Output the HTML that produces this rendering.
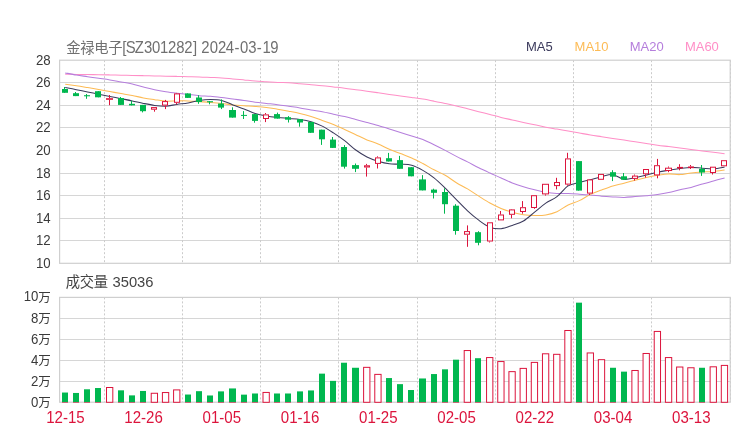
<!DOCTYPE html>
<html lang="zh-CN"><head><meta charset="utf-8"><title>金禄电子[SZ301282] 2024-03-19</title>
<style>html,body{margin:0;padding:0;background:#fff}body{width:740px;height:440px;overflow:hidden}svg{display:block}</style>
</head><body>
<svg width="740" height="440" viewBox="0 0 740 440">
<rect width="740" height="440" fill="#fff"/>
<path d="M59.60 82.50 H730.20M59.60 105.50 H730.20M59.60 127.50 H730.20M59.60 150.50 H730.20M59.60 173.50 H730.20M59.60 195.50 H730.20M59.60 218.50 H730.20M59.60 240.50 H730.20M59.60 318.50 H730.20M59.60 339.50 H730.20M59.60 360.50 H730.20M59.60 381.50 H730.20" stroke="#d6d6d6" stroke-width="1" fill="none"/>
<path d="M104.50 60.20 V263.30M104.50 297.40 V402.20M182.50 60.20 V263.30M182.50 297.40 V402.20M260.50 60.20 V263.30M260.50 297.40 V402.20M338.50 60.20 V263.30M338.50 297.40 V402.20M417.50 60.20 V263.30M417.50 297.40 V402.20M495.50 60.20 V263.30M495.50 297.40 V402.20M573.50 60.20 V263.30M573.50 297.40 V402.20M651.50 60.20 V263.30M651.50 297.40 V402.20M730.50 60.20 V263.30M730.50 297.40 V402.20" stroke="#cbcbcb" stroke-width="1" stroke-dasharray="2 2" fill="none"/>
<rect x="59.60" y="60.20" width="670.60" height="203.10" fill="none" stroke="#cfcfcf" stroke-width="1.2"/>
<rect x="59.60" y="297.40" width="670.60" height="104.80" fill="none" stroke="#cfcfcf" stroke-width="1.2"/>
<path d="M65.19 74.20C67.05 74.24 72.64 74.36 76.37 74.43C80.09 74.49 83.82 74.56 87.54 74.60C91.27 74.64 94.99 74.60 98.72 74.65C102.44 74.70 106.17 74.82 109.90 74.90C113.62 74.98 117.35 75.07 121.07 75.15C124.80 75.23 128.52 75.32 132.25 75.40C135.97 75.48 139.70 75.57 143.43 75.65C147.15 75.73 150.88 75.82 154.60 75.90C158.33 75.98 162.05 76.07 165.78 76.15C169.50 76.23 173.23 76.32 176.96 76.40C180.68 76.48 184.41 76.57 188.13 76.65C191.86 76.73 195.58 76.78 199.31 76.90C203.03 77.03 206.76 77.23 210.49 77.40C214.21 77.57 217.94 77.65 221.66 77.90C225.39 78.15 229.11 78.57 232.84 78.90C236.56 79.23 240.29 79.57 244.02 79.90C247.74 80.23 251.47 80.61 255.19 80.90C258.92 81.19 262.64 81.40 266.37 81.65C270.09 81.90 273.82 82.21 277.55 82.40C281.27 82.59 285.00 82.57 288.72 82.78C292.45 82.98 296.17 83.34 299.90 83.65C303.62 83.96 307.35 84.32 311.08 84.65C314.80 84.98 318.53 85.28 322.25 85.65C325.98 86.03 329.70 86.48 333.43 86.90C337.15 87.32 340.88 87.69 344.61 88.15C348.33 88.61 352.06 89.15 355.78 89.65C359.51 90.15 363.23 90.63 366.96 91.15C370.68 91.67 374.41 92.23 378.14 92.78C381.86 93.32 385.59 93.88 389.31 94.40C393.04 94.92 396.76 95.40 400.49 95.90C404.21 96.40 407.94 96.88 411.67 97.40C415.39 97.92 419.12 98.40 422.84 99.03C426.57 99.65 430.29 100.40 434.02 101.15C437.74 101.90 441.47 102.73 445.20 103.53C448.92 104.32 452.65 105.03 456.37 105.90C460.10 106.78 463.82 107.82 467.55 108.78C471.27 109.73 475.00 110.69 478.73 111.65C482.45 112.61 486.18 113.57 489.90 114.53C493.63 115.48 497.35 116.50 501.08 117.40C504.80 118.30 508.53 119.07 512.25 119.90C515.98 120.73 519.71 121.59 523.43 122.40C527.16 123.21 530.88 123.98 534.61 124.78C538.33 125.57 542.06 126.43 545.79 127.15C549.51 127.87 553.24 128.43 556.96 129.08C560.69 129.72 564.41 130.35 568.14 131.00C571.86 131.65 575.59 132.33 579.32 133.00C583.04 133.67 586.77 134.38 590.49 135.00C594.22 135.62 597.94 136.13 601.67 136.70C605.39 137.27 609.12 137.83 612.85 138.40C616.57 138.97 620.30 139.53 624.02 140.10C627.75 140.67 631.47 141.23 635.20 141.80C638.92 142.37 642.65 142.93 646.38 143.50C650.10 144.07 653.83 144.68 657.55 145.20C661.28 145.72 665.00 146.13 668.73 146.60C672.45 147.07 676.18 147.53 679.91 148.00C683.63 148.47 687.36 148.97 691.08 149.45C694.81 149.93 698.53 150.43 702.26 150.90C705.98 151.38 709.71 151.83 713.44 152.30C717.16 152.77 722.75 153.47 724.61 153.70" stroke="#ff8fc7" stroke-width="1.05" fill="none" stroke-linejoin="round"/>
<path d="M65.19 72.90C67.05 73.25 72.64 74.40 76.37 75.03C80.09 75.65 83.82 76.11 87.54 76.65C91.27 77.19 94.99 77.73 98.72 78.28C102.44 78.82 106.17 79.29 109.90 79.90C113.62 80.51 117.35 81.27 121.07 81.95C124.80 82.63 128.52 83.17 132.25 84.00C135.97 84.83 139.70 86.01 143.43 86.95C147.15 87.89 150.88 88.87 154.60 89.65C158.33 90.43 162.05 91.07 165.78 91.65C169.50 92.23 173.23 92.69 176.96 93.15C180.68 93.61 184.41 93.98 188.13 94.40C191.86 94.82 195.58 95.33 199.31 95.65C203.03 95.97 206.76 95.98 210.49 96.30C214.21 96.62 217.94 97.09 221.66 97.55C225.39 98.01 229.11 98.58 232.84 99.05C236.56 99.53 240.29 99.88 244.02 100.40C247.74 100.92 251.47 101.65 255.19 102.15C258.92 102.65 262.64 102.98 266.37 103.40C270.09 103.82 273.82 104.17 277.55 104.65C281.27 105.13 285.00 105.73 288.72 106.28C292.45 106.82 296.17 107.28 299.90 107.90C303.62 108.53 307.35 109.38 311.08 110.03C314.80 110.67 318.53 111.06 322.25 111.75C325.98 112.44 329.70 113.37 333.43 114.18C337.15 114.98 340.88 115.71 344.61 116.60C348.33 117.49 352.06 118.55 355.78 119.53C359.51 120.50 363.23 121.45 366.96 122.45C370.68 123.45 374.41 124.45 378.14 125.53C381.86 126.60 385.59 127.75 389.31 128.90C393.04 130.05 396.76 131.22 400.49 132.40C404.21 133.58 407.94 134.83 411.67 136.00C415.39 137.17 419.12 137.93 422.84 139.40C426.57 140.87 430.29 142.97 434.02 144.80C437.74 146.63 441.47 148.48 445.20 150.40C448.92 152.32 452.65 154.43 456.37 156.35C460.10 158.27 463.82 159.99 467.55 161.90C471.27 163.81 475.00 165.95 478.73 167.80C482.45 169.65 486.18 171.32 489.90 173.00C493.63 174.68 497.35 176.25 501.08 177.90C504.80 179.55 508.53 181.44 512.25 182.90C515.98 184.36 519.71 185.53 523.43 186.65C527.16 187.78 530.88 188.73 534.61 189.65C538.33 190.57 542.06 191.53 545.79 192.15C549.51 192.78 553.24 193.18 556.96 193.40C560.69 193.62 564.41 193.38 568.14 193.50C571.86 193.62 575.59 193.90 579.32 194.15C583.04 194.40 586.77 194.67 590.49 195.00C594.22 195.33 597.94 195.83 601.67 196.15C605.39 196.47 609.12 196.69 612.85 196.90C616.57 197.11 620.30 197.45 624.02 197.40C627.75 197.35 631.47 196.89 635.20 196.60C638.92 196.31 642.65 196.00 646.38 195.65C650.10 195.30 653.83 195.01 657.55 194.50C661.28 193.99 665.00 193.38 668.73 192.60C672.45 191.82 676.18 190.67 679.91 189.80C683.63 188.93 687.36 188.35 691.08 187.40C694.81 186.45 698.53 185.18 702.26 184.10C705.98 183.02 709.71 181.93 713.44 180.90C717.16 179.87 722.75 178.40 724.61 177.90" stroke="#b57edc" stroke-width="1.05" fill="none" stroke-linejoin="round"/>
<path d="M65.19 84.15C67.05 84.40 72.64 85.08 76.37 85.65C80.09 86.22 83.82 86.90 87.54 87.55C91.27 88.20 94.99 88.90 98.72 89.58C102.44 90.25 106.17 90.94 109.90 91.60C113.62 92.26 117.35 92.88 121.07 93.53C124.80 94.17 128.52 94.72 132.25 95.45C135.97 96.18 139.70 97.20 143.43 97.90C147.15 98.60 150.88 99.12 154.60 99.65C158.33 100.18 162.05 100.89 165.78 101.10C169.50 101.31 173.23 100.93 176.96 100.90C180.68 100.87 184.41 100.78 188.13 100.90C191.86 101.03 195.58 101.40 199.31 101.65C203.03 101.90 206.76 102.11 210.49 102.40C214.21 102.69 217.94 102.98 221.66 103.40C225.39 103.82 229.11 104.52 232.84 104.90C236.56 105.28 240.29 105.45 244.02 105.70C247.74 105.95 251.47 106.12 255.19 106.40C258.92 106.68 262.64 106.94 266.37 107.40C270.09 107.86 273.82 108.53 277.55 109.15C281.27 109.78 285.00 110.44 288.72 111.15C292.45 111.86 296.17 112.53 299.90 113.40C303.62 114.28 307.35 115.23 311.08 116.40C314.80 117.57 318.53 119.07 322.25 120.40C325.98 121.73 329.70 122.90 333.43 124.40C337.15 125.90 340.88 127.68 344.61 129.40C348.33 131.12 352.06 132.95 355.78 134.70C359.51 136.45 363.23 138.37 366.96 139.90C370.68 141.43 374.41 142.33 378.14 143.90C381.86 145.47 385.59 147.68 389.31 149.30C393.04 150.92 396.76 152.17 400.49 153.60C404.21 155.03 407.94 156.24 411.67 157.90C415.39 159.56 419.12 161.57 422.84 163.55C426.57 165.53 430.29 167.84 434.02 169.80C437.74 171.76 441.47 173.15 445.20 175.30C448.92 177.45 452.65 180.43 456.37 182.70C460.10 184.97 463.82 186.67 467.55 188.90C471.27 191.13 475.00 193.75 478.73 196.10C482.45 198.45 486.18 200.95 489.90 203.00C493.63 205.05 497.35 206.87 501.08 208.40C504.80 209.93 508.53 211.16 512.25 212.20C515.98 213.24 519.71 214.12 523.43 214.65C527.16 215.18 530.88 215.36 534.61 215.40C538.33 215.44 542.06 215.52 545.79 214.90C549.51 214.28 553.24 213.35 556.96 211.70C560.69 210.05 564.41 206.84 568.14 205.00C571.86 203.16 575.59 202.42 579.32 200.65C583.04 198.88 586.77 196.19 590.49 194.40C594.22 192.61 597.94 191.32 601.67 189.90C605.39 188.48 609.12 187.02 612.85 185.90C616.57 184.78 620.30 184.15 624.02 183.20C627.75 182.25 631.47 181.17 635.20 180.20C638.92 179.23 642.65 178.22 646.38 177.40C650.10 176.58 653.83 175.88 657.55 175.30C661.28 174.72 665.00 174.02 668.73 173.90C672.45 173.78 676.18 174.77 679.91 174.60C683.63 174.43 687.36 173.33 691.08 172.90C694.81 172.47 698.53 172.23 702.26 172.00C705.98 171.77 709.71 171.85 713.44 171.50C717.16 171.15 722.75 170.17 724.61 169.90" stroke="#fdbb55" stroke-width="1.05" fill="none" stroke-linejoin="round"/>
<path d="M65.19 87.40C67.05 87.78 72.64 88.90 76.37 89.65C80.09 90.40 83.82 91.15 87.54 91.90C91.27 92.65 94.99 93.40 98.72 94.15C102.44 94.90 106.17 95.65 109.90 96.40C113.62 97.15 117.35 97.90 121.07 98.65C124.80 99.40 128.52 100.11 132.25 100.90C135.97 101.69 139.70 102.65 143.43 103.40C147.15 104.15 150.88 104.94 154.60 105.40C158.33 105.86 162.05 106.32 165.78 106.15C169.50 105.98 173.23 104.94 176.96 104.40C180.68 103.86 184.41 103.57 188.13 102.90C191.86 102.23 195.58 100.97 199.31 100.40C203.03 99.83 206.76 99.50 210.49 99.50C214.21 99.50 217.94 99.50 221.66 100.40C225.39 101.30 229.11 103.48 232.84 104.90C236.56 106.32 240.29 107.48 244.02 108.90C247.74 110.32 251.47 112.23 255.19 113.40C258.92 114.57 262.64 115.23 266.37 115.90C270.09 116.57 273.82 116.98 277.55 117.40C281.27 117.82 285.00 118.07 288.72 118.40C292.45 118.73 296.17 118.86 299.90 119.40C303.62 119.94 307.35 120.53 311.08 121.65C314.80 122.78 318.53 124.28 322.25 126.15C325.98 128.03 329.70 130.48 333.43 132.90C337.15 135.32 340.88 137.80 344.61 140.65C348.33 143.50 352.06 147.28 355.78 150.00C359.51 152.72 363.23 155.08 366.96 156.95C370.68 158.83 374.41 160.10 378.14 161.25C381.86 162.40 385.59 163.36 389.31 163.85C393.04 164.34 396.76 163.96 400.49 164.20C404.21 164.44 407.94 164.27 411.67 165.30C415.39 166.33 419.12 168.30 422.84 170.40C426.57 172.50 430.29 174.94 434.02 177.90C437.74 180.86 441.47 184.53 445.20 188.15C448.92 191.77 452.65 195.81 456.37 199.60C460.10 203.39 463.82 207.47 467.55 210.90C471.27 214.33 475.00 217.49 478.73 220.20C482.45 222.91 486.18 225.74 489.90 227.15C493.63 228.56 497.35 228.94 501.08 228.65C504.80 228.36 508.53 226.68 512.25 225.40C515.98 224.12 519.71 223.22 523.43 221.00C527.16 218.78 530.88 215.07 534.61 212.10C538.33 209.12 542.06 205.72 545.79 203.15C549.51 200.58 553.24 199.53 556.96 196.65C560.69 193.78 564.41 188.28 568.14 185.90C571.86 183.53 575.59 183.44 579.32 182.40C583.04 181.36 586.77 180.61 590.49 179.65C594.22 178.69 597.94 177.48 601.67 176.65C605.39 175.82 609.12 174.21 612.85 174.65C616.57 175.09 620.30 178.79 624.02 179.30C627.75 179.81 631.47 178.43 635.20 177.70C638.92 176.97 642.65 175.82 646.38 174.90C650.10 173.98 653.83 172.98 657.55 172.20C661.28 171.42 665.00 170.82 668.73 170.20C672.45 169.58 676.18 168.97 679.91 168.50C683.63 168.03 687.36 167.45 691.08 167.40C694.81 167.35 698.53 167.95 702.26 168.20C705.98 168.45 709.71 169.10 713.44 168.90C717.16 168.70 722.75 167.32 724.61 167.00" stroke="#3b3a5c" stroke-width="1.05" fill="none" stroke-linejoin="round"/>
<rect x="62" y="89.00" width="6" height="3.80" fill="#00b74f"/>
<path d="M64.5 87.00 V92.80" stroke="#00b74f" stroke-width="1"/>
<rect x="73" y="93.20" width="6" height="2.90" fill="#00b74f"/>
<path d="M75.5 92.00 V96.10" stroke="#00b74f" stroke-width="1"/>
<rect x="84" y="95.20" width="6" height="1.10" fill="#00b74f"/>
<path d="M86.5 94.00 V98.80" stroke="#00b74f" stroke-width="1"/>
<rect x="95" y="91.20" width="6" height="6.10" fill="#00b74f"/>
<path d="M98.5 91.20 V97.30" stroke="#00b74f" stroke-width="1"/>
<path d="M109.5 95.00 V98.20M109.5 99.40 V105.20" stroke="#dc143c" stroke-width="1"/>
<rect x="106.5" y="98.70" width="6" height="0.60" fill="#fff" stroke="#dc143c" stroke-width="1"/>
<rect x="118" y="98.00" width="6" height="6.90" fill="#00b74f"/>
<path d="M120.5 97.00 V104.90" stroke="#00b74f" stroke-width="1"/>
<rect x="129" y="103.80" width="6" height="1.60" fill="#00b74f"/>
<path d="M131.5 100.80 V105.40" stroke="#00b74f" stroke-width="1"/>
<rect x="140" y="104.90" width="6" height="6.30" fill="#00b74f"/>
<path d="M142.5 104.90 V112.40" stroke="#00b74f" stroke-width="1"/>
<path d="M154.5 109.70 V111.70" stroke="#dc143c" stroke-width="1"/>
<rect x="151.5" y="107.60" width="5" height="1.60" fill="#fff" stroke="#dc143c" stroke-width="1"/>
<path d="M165.5 99.90 V101.10M165.5 105.60 V109.10" stroke="#dc143c" stroke-width="1"/>
<rect x="162.5" y="101.60" width="5" height="3.50" fill="#fff" stroke="#dc143c" stroke-width="1"/>
<path d="M176.5 92.90 V93.40M176.5 102.80 V104.30" stroke="#dc143c" stroke-width="1"/>
<rect x="174.5" y="93.90" width="5" height="8.40" fill="#fff" stroke="#dc143c" stroke-width="1"/>
<rect x="185" y="93.40" width="6" height="4.50" fill="#00b74f"/>
<path d="M187.5 93.40 V97.90" stroke="#00b74f" stroke-width="1"/>
<rect x="196" y="97.50" width="6" height="4.50" fill="#00b74f"/>
<path d="M198.5 95.20 V103.80" stroke="#00b74f" stroke-width="1"/>
<rect x="207" y="101.20" width="6" height="1.10" fill="#00b74f"/>
<path d="M209.5 101.20 V104.30" stroke="#00b74f" stroke-width="1"/>
<rect x="218" y="103.50" width="6" height="4.10" fill="#00b74f"/>
<path d="M221.5 99.40 V109.10" stroke="#00b74f" stroke-width="1"/>
<rect x="229" y="110.00" width="7" height="7.60" fill="#00b74f"/>
<path d="M232.5 107.30 V117.60" stroke="#00b74f" stroke-width="1"/>
<rect x="241" y="114.90" width="6" height="1.00" fill="#00b74f"/>
<path d="M243.5 111.10 V119.00" stroke="#00b74f" stroke-width="1"/>
<rect x="252" y="114.10" width="6" height="6.80" fill="#00b74f"/>
<path d="M254.5 114.10 V122.70" stroke="#00b74f" stroke-width="1"/>
<path d="M265.5 113.00 V114.40M265.5 119.00 V122.10" stroke="#dc143c" stroke-width="1"/>
<rect x="263.5" y="114.90" width="5" height="3.60" fill="#fff" stroke="#dc143c" stroke-width="1"/>
<rect x="274" y="114.10" width="6" height="4.50" fill="#00b74f"/>
<path d="M277.5 112.60 V118.60" stroke="#00b74f" stroke-width="1"/>
<rect x="285" y="117.20" width="6" height="2.50" fill="#00b74f"/>
<path d="M288.5 116.10 V122.50" stroke="#00b74f" stroke-width="1"/>
<rect x="297" y="119.10" width="6" height="3.40" fill="#00b74f"/>
<path d="M299.5 119.10 V126.70" stroke="#00b74f" stroke-width="1"/>
<rect x="308" y="121.90" width="6" height="10.90" fill="#00b74f"/>
<path d="M310.5 121.90 V132.80" stroke="#00b74f" stroke-width="1"/>
<rect x="319" y="129.70" width="6" height="9.60" fill="#00b74f"/>
<path d="M321.5 129.70 V144.90" stroke="#00b74f" stroke-width="1"/>
<rect x="330" y="139.60" width="6" height="8.30" fill="#00b74f"/>
<path d="M332.5 137.00 V147.90" stroke="#00b74f" stroke-width="1"/>
<rect x="341" y="147.00" width="6" height="19.70" fill="#00b74f"/>
<path d="M344.5 145.10 V168.60" stroke="#00b74f" stroke-width="1"/>
<rect x="352" y="165.10" width="7" height="3.70" fill="#00b74f"/>
<path d="M355.5 163.50 V172.10" stroke="#00b74f" stroke-width="1"/>
<path d="M366.5 163.90 V165.30M366.5 167.50 V176.60" stroke="#dc143c" stroke-width="1"/>
<rect x="364.5" y="165.80" width="5" height="1.20" fill="#fff" stroke="#dc143c" stroke-width="1"/>
<path d="M377.5 156.30 V157.40M377.5 163.90 V168.50" stroke="#dc143c" stroke-width="1"/>
<rect x="375.5" y="157.90" width="5" height="5.50" fill="#fff" stroke="#dc143c" stroke-width="1"/>
<rect x="386" y="158.20" width="6" height="3.30" fill="#00b74f"/>
<path d="M388.5 152.90 V161.50" stroke="#00b74f" stroke-width="1"/>
<rect x="397" y="160.10" width="6" height="8.70" fill="#00b74f"/>
<path d="M399.5 155.90 V168.80" stroke="#00b74f" stroke-width="1"/>
<rect x="408" y="167.20" width="6" height="9.10" fill="#00b74f"/>
<path d="M411.5 167.20 V176.30" stroke="#00b74f" stroke-width="1"/>
<rect x="419" y="179.40" width="7" height="11.00" fill="#00b74f"/>
<path d="M422.5 175.10 V190.40" stroke="#00b74f" stroke-width="1"/>
<rect x="431" y="189.60" width="6" height="3.20" fill="#00b74f"/>
<path d="M433.5 188.70 V198.50" stroke="#00b74f" stroke-width="1"/>
<rect x="442" y="192.00" width="6" height="12.20" fill="#00b74f"/>
<path d="M444.5 188.30 V213.70" stroke="#00b74f" stroke-width="1"/>
<rect x="453" y="205.70" width="6" height="25.30" fill="#00b74f"/>
<path d="M455.5 204.20 V234.70" stroke="#00b74f" stroke-width="1"/>
<path d="M467.5 225.40 V231.10M467.5 234.70 V246.80" stroke="#dc143c" stroke-width="1"/>
<rect x="464.5" y="231.60" width="5" height="2.60" fill="#fff" stroke="#dc143c" stroke-width="1"/>
<rect x="475" y="232.20" width="6" height="10.60" fill="#00b74f"/>
<path d="M478.5 231.20 V245.30" stroke="#00b74f" stroke-width="1"/>
<path d="M489.5 241.50 V242.50" stroke="#dc143c" stroke-width="1"/>
<rect x="487.5" y="222.80" width="5" height="18.20" fill="#fff" stroke="#dc143c" stroke-width="1"/>
<path d="M500.5 211.00 V214.50" stroke="#dc143c" stroke-width="1"/>
<rect x="498.5" y="215.00" width="5" height="4.90" fill="#fff" stroke="#dc143c" stroke-width="1"/>
<path d="M511.5 209.00 V209.40M511.5 214.80 V218.30" stroke="#dc143c" stroke-width="1"/>
<rect x="509.5" y="209.90" width="5" height="4.40" fill="#fff" stroke="#dc143c" stroke-width="1"/>
<path d="M522.5 201.10 V207.20M522.5 212.00 V213.70" stroke="#dc143c" stroke-width="1"/>
<rect x="520.5" y="207.70" width="5" height="3.80" fill="#fff" stroke="#dc143c" stroke-width="1"/>
<path d="M534.5 208.00 V208.80" stroke="#dc143c" stroke-width="1"/>
<rect x="531.5" y="195.70" width="5" height="11.80" fill="#fff" stroke="#dc143c" stroke-width="1"/>
<path d="M545.5 194.40 V195.60" stroke="#dc143c" stroke-width="1"/>
<rect x="542.5" y="184.30" width="6" height="9.60" fill="#fff" stroke="#dc143c" stroke-width="1"/>
<path d="M556.5 177.80 V182.00M556.5 186.10 V189.40" stroke="#dc143c" stroke-width="1"/>
<rect x="554.5" y="182.50" width="5" height="3.10" fill="#fff" stroke="#dc143c" stroke-width="1"/>
<path d="M567.5 152.80 V158.40M567.5 184.60 V185.70" stroke="#dc143c" stroke-width="1"/>
<rect x="565.5" y="158.90" width="5" height="25.20" fill="#fff" stroke="#dc143c" stroke-width="1"/>
<rect x="576" y="161.10" width="6" height="29.50" fill="#00b74f"/>
<path d="M578.5 161.10 V190.60" stroke="#00b74f" stroke-width="1"/>
<path d="M589.5 193.60 V195.00" stroke="#dc143c" stroke-width="1"/>
<rect x="587.5" y="179.90" width="5" height="13.20" fill="#fff" stroke="#dc143c" stroke-width="1"/>
<rect x="598.5" y="174.40" width="5" height="4.90" fill="#fff" stroke="#dc143c" stroke-width="1"/>
<rect x="610" y="172.20" width="6" height="4.50" fill="#00b74f"/>
<path d="M612.5 170.20 V181.10" stroke="#00b74f" stroke-width="1"/>
<rect x="621" y="176.30" width="6" height="3.40" fill="#00b74f"/>
<path d="M623.5 173.00 V179.70" stroke="#00b74f" stroke-width="1"/>
<path d="M634.5 174.50 V175.60M634.5 178.90 V180.60" stroke="#dc143c" stroke-width="1"/>
<rect x="632.5" y="176.10" width="5" height="2.30" fill="#fff" stroke="#dc143c" stroke-width="1"/>
<path d="M645.5 174.30 V177.60" stroke="#dc143c" stroke-width="1"/>
<rect x="643.5" y="169.50" width="5" height="4.30" fill="#fff" stroke="#dc143c" stroke-width="1"/>
<path d="M657.5 158.90 V165.20M657.5 175.40 V178.30" stroke="#dc143c" stroke-width="1"/>
<rect x="654.5" y="165.70" width="5" height="9.20" fill="#fff" stroke="#dc143c" stroke-width="1"/>
<path d="M668.5 166.50 V167.70M668.5 171.00 V172.20" stroke="#dc143c" stroke-width="1"/>
<rect x="665.5" y="168.20" width="6" height="2.30" fill="#fff" stroke="#dc143c" stroke-width="1"/>
<path d="M679.5 164.20 V166.90M679.5 168.50 V170.30" stroke="#dc143c" stroke-width="1"/>
<rect x="677.5" y="167.40" width="5" height="0.60" fill="#fff" stroke="#dc143c" stroke-width="1"/>
<path d="M690.5 165.00 V166.50M690.5 167.50 V169.00" stroke="#dc143c" stroke-width="1"/>
<rect x="688.5" y="167.00" width="5" height="0.60" fill="#fff" stroke="#dc143c" stroke-width="1"/>
<rect x="699" y="168.80" width="6" height="3.70" fill="#00b74f"/>
<path d="M701.5 165.00 V175.90" stroke="#00b74f" stroke-width="1"/>
<path d="M712.5 173.00 V174.50" stroke="#dc143c" stroke-width="1"/>
<rect x="710.5" y="167.20" width="5" height="5.30" fill="#fff" stroke="#dc143c" stroke-width="1"/>
<rect x="721.5" y="160.70" width="5" height="5.10" fill="#fff" stroke="#dc143c" stroke-width="1"/>
<rect x="62" y="392.54" width="6" height="9.66" fill="#00b74f"/>
<rect x="62" y="402.00" width="6" height="1" fill="#dc143c" fill-opacity="0.55"/>
<rect x="73" y="392.96" width="6" height="9.24" fill="#00b74f"/>
<rect x="73" y="402.00" width="6" height="1" fill="#dc143c" fill-opacity="0.55"/>
<rect x="84" y="389.28" width="6" height="12.91" fill="#00b74f"/>
<rect x="84" y="402.00" width="6" height="1" fill="#dc143c" fill-opacity="0.55"/>
<rect x="95" y="388.02" width="6" height="14.18" fill="#00b74f"/>
<rect x="95" y="402.00" width="6" height="1" fill="#dc143c" fill-opacity="0.55"/>
<rect x="106.51" y="387.50" width="6.3" height="14.80" fill="#fff" stroke="#dc143c" stroke-width="1"/>
<rect x="118" y="390.33" width="6" height="11.86" fill="#00b74f"/>
<rect x="118" y="402.00" width="6" height="1" fill="#dc143c" fill-opacity="0.55"/>
<rect x="129" y="395.38" width="6" height="6.83" fill="#00b74f"/>
<rect x="129" y="402.00" width="6" height="1" fill="#dc143c" fill-opacity="0.55"/>
<rect x="140" y="390.96" width="6" height="11.24" fill="#00b74f"/>
<rect x="140" y="402.00" width="6" height="1" fill="#dc143c" fill-opacity="0.55"/>
<rect x="151.22" y="393.27" width="6.3" height="9.02" fill="#fff" stroke="#dc143c" stroke-width="1"/>
<rect x="162.40" y="392.54" width="6.3" height="9.76" fill="#fff" stroke="#dc143c" stroke-width="1"/>
<rect x="173.58" y="389.91" width="6.3" height="12.38" fill="#fff" stroke="#dc143c" stroke-width="1"/>
<rect x="185" y="394.53" width="6" height="7.67" fill="#00b74f"/>
<rect x="185" y="402.00" width="6" height="1" fill="#dc143c" fill-opacity="0.55"/>
<rect x="196" y="391.18" width="6" height="11.03" fill="#00b74f"/>
<rect x="196" y="402.00" width="6" height="1" fill="#dc143c" fill-opacity="0.55"/>
<rect x="207" y="395.48" width="6" height="6.72" fill="#00b74f"/>
<rect x="207" y="402.00" width="6" height="1" fill="#dc143c" fill-opacity="0.55"/>
<rect x="218" y="391.38" width="6" height="10.81" fill="#00b74f"/>
<rect x="218" y="402.00" width="6" height="1" fill="#dc143c" fill-opacity="0.55"/>
<rect x="229" y="388.44" width="7" height="13.76" fill="#00b74f"/>
<rect x="229" y="402.00" width="7" height="1" fill="#dc143c" fill-opacity="0.55"/>
<rect x="241" y="394.64" width="6" height="7.56" fill="#00b74f"/>
<rect x="241" y="402.00" width="6" height="1" fill="#dc143c" fill-opacity="0.55"/>
<rect x="252" y="393.49" width="6" height="8.71" fill="#00b74f"/>
<rect x="252" y="402.00" width="6" height="1" fill="#dc143c" fill-opacity="0.55"/>
<rect x="263.00" y="392.44" width="6.3" height="9.87" fill="#fff" stroke="#dc143c" stroke-width="1"/>
<rect x="274" y="393.49" width="6" height="8.71" fill="#00b74f"/>
<rect x="274" y="402.00" width="6" height="1" fill="#dc143c" fill-opacity="0.55"/>
<rect x="285" y="393.49" width="6" height="8.71" fill="#00b74f"/>
<rect x="285" y="402.00" width="6" height="1" fill="#dc143c" fill-opacity="0.55"/>
<rect x="297" y="391.38" width="6" height="10.81" fill="#00b74f"/>
<rect x="297" y="402.00" width="6" height="1" fill="#dc143c" fill-opacity="0.55"/>
<rect x="308" y="390.44" width="6" height="11.76" fill="#00b74f"/>
<rect x="308" y="402.00" width="6" height="1" fill="#dc143c" fill-opacity="0.55"/>
<rect x="319" y="373.64" width="6" height="28.56" fill="#00b74f"/>
<rect x="319" y="402.00" width="6" height="1" fill="#dc143c" fill-opacity="0.55"/>
<rect x="330" y="380.88" width="6" height="21.31" fill="#00b74f"/>
<rect x="330" y="402.00" width="6" height="1" fill="#dc143c" fill-opacity="0.55"/>
<rect x="341" y="362.72" width="6" height="39.48" fill="#00b74f"/>
<rect x="341" y="402.00" width="6" height="1" fill="#dc143c" fill-opacity="0.55"/>
<rect x="352" y="367.76" width="7" height="34.44" fill="#00b74f"/>
<rect x="352" y="402.00" width="7" height="1" fill="#dc143c" fill-opacity="0.55"/>
<rect x="363.61" y="367.34" width="6.3" height="34.96" fill="#fff" stroke="#dc143c" stroke-width="1"/>
<rect x="374.78" y="374.38" width="6.3" height="27.93" fill="#fff" stroke="#dc143c" stroke-width="1"/>
<rect x="386" y="378.05" width="6" height="24.15" fill="#00b74f"/>
<rect x="386" y="402.00" width="6" height="1" fill="#dc143c" fill-opacity="0.55"/>
<rect x="397" y="384.14" width="6" height="18.06" fill="#00b74f"/>
<rect x="397" y="402.00" width="6" height="1" fill="#dc143c" fill-opacity="0.55"/>
<rect x="408" y="390.02" width="6" height="12.18" fill="#00b74f"/>
<rect x="408" y="402.00" width="6" height="1" fill="#dc143c" fill-opacity="0.55"/>
<rect x="419" y="378.47" width="7" height="23.73" fill="#00b74f"/>
<rect x="419" y="402.00" width="7" height="1" fill="#dc143c" fill-opacity="0.55"/>
<rect x="431" y="374.06" width="6" height="28.14" fill="#00b74f"/>
<rect x="431" y="402.00" width="6" height="1" fill="#dc143c" fill-opacity="0.55"/>
<rect x="442" y="369.33" width="6" height="32.87" fill="#00b74f"/>
<rect x="442" y="402.00" width="6" height="1" fill="#dc143c" fill-opacity="0.55"/>
<rect x="453" y="359.68" width="6" height="42.52" fill="#00b74f"/>
<rect x="453" y="402.00" width="6" height="1" fill="#dc143c" fill-opacity="0.55"/>
<rect x="464.21" y="350.54" width="6.3" height="51.76" fill="#fff" stroke="#dc143c" stroke-width="1"/>
<rect x="475" y="358.20" width="6" height="44.00" fill="#00b74f"/>
<rect x="475" y="402.00" width="6" height="1" fill="#dc143c" fill-opacity="0.55"/>
<rect x="486.56" y="357.57" width="6.3" height="44.73" fill="#fff" stroke="#dc143c" stroke-width="1"/>
<rect x="497.74" y="361.56" width="6.3" height="40.73" fill="#fff" stroke="#dc143c" stroke-width="1"/>
<rect x="508.92" y="371.64" width="6.3" height="30.66" fill="#fff" stroke="#dc143c" stroke-width="1"/>
<rect x="520.10" y="368.39" width="6.3" height="33.91" fill="#fff" stroke="#dc143c" stroke-width="1"/>
<rect x="531.28" y="362.40" width="6.3" height="39.90" fill="#fff" stroke="#dc143c" stroke-width="1"/>
<rect x="542.45" y="353.79" width="6.3" height="48.51" fill="#fff" stroke="#dc143c" stroke-width="1"/>
<rect x="553.63" y="354.32" width="6.3" height="47.98" fill="#fff" stroke="#dc143c" stroke-width="1"/>
<rect x="564.81" y="330.49" width="6.3" height="71.81" fill="#fff" stroke="#dc143c" stroke-width="1"/>
<rect x="576" y="302.66" width="6" height="99.54" fill="#00b74f"/>
<rect x="576" y="402.00" width="6" height="1" fill="#dc143c" fill-opacity="0.55"/>
<rect x="587.17" y="352.95" width="6.3" height="49.35" fill="#fff" stroke="#dc143c" stroke-width="1"/>
<rect x="598.34" y="359.68" width="6.3" height="42.62" fill="#fff" stroke="#dc143c" stroke-width="1"/>
<rect x="610" y="367.76" width="6" height="34.44" fill="#00b74f"/>
<rect x="610" y="402.00" width="6" height="1" fill="#dc143c" fill-opacity="0.55"/>
<rect x="621" y="371.64" width="6" height="30.55" fill="#00b74f"/>
<rect x="621" y="402.00" width="6" height="1" fill="#dc143c" fill-opacity="0.55"/>
<rect x="631.88" y="370.49" width="6.3" height="31.81" fill="#fff" stroke="#dc143c" stroke-width="1"/>
<rect x="643.06" y="353.48" width="6.3" height="48.82" fill="#fff" stroke="#dc143c" stroke-width="1"/>
<rect x="654.23" y="331.43" width="6.3" height="70.87" fill="#fff" stroke="#dc143c" stroke-width="1"/>
<rect x="665.41" y="357.57" width="6.3" height="44.73" fill="#fff" stroke="#dc143c" stroke-width="1"/>
<rect x="676.59" y="367.02" width="6.3" height="35.28" fill="#fff" stroke="#dc143c" stroke-width="1"/>
<rect x="687.77" y="367.76" width="6.3" height="34.54" fill="#fff" stroke="#dc143c" stroke-width="1"/>
<rect x="699" y="367.76" width="6" height="34.44" fill="#00b74f"/>
<rect x="699" y="402.00" width="6" height="1" fill="#dc143c" fill-opacity="0.55"/>
<rect x="710.12" y="366.81" width="6.3" height="35.48" fill="#fff" stroke="#dc143c" stroke-width="1"/>
<rect x="721.30" y="365.41" width="6.3" height="36.89" fill="#fff" stroke="#dc143c" stroke-width="1"/>
<g opacity="0.999">
<text transform="translate(50.70 64.85) scale(0.920 1)" font-size="14.4" fill="#3a3a3a" text-anchor="end" font-family="'Liberation Sans','Noto Sans CJK SC',sans-serif">28</text>
<text transform="translate(50.70 87.05) scale(0.920 1)" font-size="14.4" fill="#3a3a3a" text-anchor="end" font-family="'Liberation Sans','Noto Sans CJK SC',sans-serif">26</text>
<text transform="translate(50.70 110.05) scale(0.920 1)" font-size="14.4" fill="#3a3a3a" text-anchor="end" font-family="'Liberation Sans','Noto Sans CJK SC',sans-serif">24</text>
<text transform="translate(50.70 132.05) scale(0.920 1)" font-size="14.4" fill="#3a3a3a" text-anchor="end" font-family="'Liberation Sans','Noto Sans CJK SC',sans-serif">22</text>
<text transform="translate(50.70 155.05) scale(0.920 1)" font-size="14.4" fill="#3a3a3a" text-anchor="end" font-family="'Liberation Sans','Noto Sans CJK SC',sans-serif">20</text>
<text transform="translate(50.70 178.05) scale(0.920 1)" font-size="14.4" fill="#3a3a3a" text-anchor="end" font-family="'Liberation Sans','Noto Sans CJK SC',sans-serif">18</text>
<text transform="translate(50.70 200.05) scale(0.920 1)" font-size="14.4" fill="#3a3a3a" text-anchor="end" font-family="'Liberation Sans','Noto Sans CJK SC',sans-serif">16</text>
<text transform="translate(50.70 223.05) scale(0.920 1)" font-size="14.4" fill="#3a3a3a" text-anchor="end" font-family="'Liberation Sans','Noto Sans CJK SC',sans-serif">14</text>
<text transform="translate(50.70 245.05) scale(0.920 1)" font-size="14.4" fill="#3a3a3a" text-anchor="end" font-family="'Liberation Sans','Noto Sans CJK SC',sans-serif">12</text>
<text transform="translate(50.70 267.55) scale(0.920 1)" font-size="14.4" fill="#3a3a3a" text-anchor="end" font-family="'Liberation Sans','Noto Sans CJK SC',sans-serif">10</text>
<text transform="translate(50.70 301.55)" font-size="12.5" fill="#3a3a3a" text-anchor="end" font-family="'Liberation Sans','Noto Sans CJK SC',sans-serif">万</text>
<text transform="translate(38.40 301.45) scale(0.920 1)" font-size="14.4" fill="#3a3a3a" text-anchor="end" font-family="'Liberation Sans','Noto Sans CJK SC',sans-serif">10</text>
<text transform="translate(50.70 323.15)" font-size="12.5" fill="#3a3a3a" text-anchor="end" font-family="'Liberation Sans','Noto Sans CJK SC',sans-serif">万</text>
<text transform="translate(38.40 323.05) scale(0.920 1)" font-size="14.4" fill="#3a3a3a" text-anchor="end" font-family="'Liberation Sans','Noto Sans CJK SC',sans-serif">8</text>
<text transform="translate(50.70 344.15)" font-size="12.5" fill="#3a3a3a" text-anchor="end" font-family="'Liberation Sans','Noto Sans CJK SC',sans-serif">万</text>
<text transform="translate(38.40 344.05) scale(0.920 1)" font-size="14.4" fill="#3a3a3a" text-anchor="end" font-family="'Liberation Sans','Noto Sans CJK SC',sans-serif">6</text>
<text transform="translate(50.70 365.15)" font-size="12.5" fill="#3a3a3a" text-anchor="end" font-family="'Liberation Sans','Noto Sans CJK SC',sans-serif">万</text>
<text transform="translate(38.40 365.05) scale(0.920 1)" font-size="14.4" fill="#3a3a3a" text-anchor="end" font-family="'Liberation Sans','Noto Sans CJK SC',sans-serif">4</text>
<text transform="translate(50.70 386.15)" font-size="12.5" fill="#3a3a3a" text-anchor="end" font-family="'Liberation Sans','Noto Sans CJK SC',sans-serif">万</text>
<text transform="translate(38.40 386.05) scale(0.920 1)" font-size="14.4" fill="#3a3a3a" text-anchor="end" font-family="'Liberation Sans','Noto Sans CJK SC',sans-serif">2</text>
<text transform="translate(50.70 406.85)" font-size="12.5" fill="#3a3a3a" text-anchor="end" font-family="'Liberation Sans','Noto Sans CJK SC',sans-serif">万</text>
<text transform="translate(38.40 406.75) scale(0.920 1)" font-size="14.4" fill="#3a3a3a" text-anchor="end" font-family="'Liberation Sans','Noto Sans CJK SC',sans-serif">0</text>
<text transform="translate(65.39 422.90) scale(0.930 1)" font-size="16.2" fill="#dc143c" text-anchor="middle" font-family="'Liberation Sans','Noto Sans CJK SC',sans-serif">12-15</text>
<text transform="translate(143.62 422.90) scale(0.930 1)" font-size="16.2" fill="#dc143c" text-anchor="middle" font-family="'Liberation Sans','Noto Sans CJK SC',sans-serif">12-26</text>
<text transform="translate(221.86 422.90) scale(0.930 1)" font-size="16.2" fill="#dc143c" text-anchor="middle" font-family="'Liberation Sans','Noto Sans CJK SC',sans-serif">01-05</text>
<text transform="translate(300.10 422.90) scale(0.930 1)" font-size="16.2" fill="#dc143c" text-anchor="middle" font-family="'Liberation Sans','Noto Sans CJK SC',sans-serif">01-16</text>
<text transform="translate(378.34 422.90) scale(0.930 1)" font-size="16.2" fill="#dc143c" text-anchor="middle" font-family="'Liberation Sans','Noto Sans CJK SC',sans-serif">01-25</text>
<text transform="translate(456.57 422.90) scale(0.930 1)" font-size="16.2" fill="#dc143c" text-anchor="middle" font-family="'Liberation Sans','Noto Sans CJK SC',sans-serif">02-05</text>
<text transform="translate(534.81 422.90) scale(0.930 1)" font-size="16.2" fill="#dc143c" text-anchor="middle" font-family="'Liberation Sans','Noto Sans CJK SC',sans-serif">02-22</text>
<text transform="translate(613.05 422.90) scale(0.930 1)" font-size="16.2" fill="#dc143c" text-anchor="middle" font-family="'Liberation Sans','Noto Sans CJK SC',sans-serif">03-04</text>
<text transform="translate(691.28 422.90) scale(0.930 1)" font-size="16.2" fill="#dc143c" text-anchor="middle" font-family="'Liberation Sans','Noto Sans CJK SC',sans-serif">03-13</text>
<text transform="translate(66.30 53.20)" font-size="14.3" fill="#707070" textLength="56.30" lengthAdjust="spacing" font-family="'Liberation Sans','Noto Sans CJK SC',sans-serif">金禄电子</text>
<text transform="scale(0.920 1)" x="132.83 136.58 146.52 156.52 165.33 173.80 182.55 191.63 200.16 209.89" y="53.00" font-size="16.2" fill="#707070" font-family="'Liberation Sans','Noto Sans CJK SC',sans-serif">[SZ301282]</text>
<text transform="scale(0.920 1)" x="218.64 228.04 236.90 245.38 254.84 260.76 269.89 279.18 285.22 293.75" y="53.00" font-size="16.2" fill="#707070" font-family="'Liberation Sans','Noto Sans CJK SC',sans-serif">2024-03-19</text>
<text transform="translate(65.80 286.90)" font-size="14.3" fill="#444" textLength="42.20" lengthAdjust="spacing" font-family="'Liberation Sans','Noto Sans CJK SC',sans-serif">成交量</text>
<text transform="translate(112.60 286.50) scale(0.990 1)" font-size="14.9" fill="#444" textLength="41.21" lengthAdjust="spacing" font-family="'Liberation Sans','Noto Sans CJK SC',sans-serif">35036</text>
<text transform="translate(526.00 51.20) scale(0.970 1)" font-size="13.4" fill="#3b3a5c" font-family="'Liberation Sans','Noto Sans CJK SC',sans-serif">MA5</text>
<text transform="translate(574.60 51.20) scale(0.970 1)" font-size="13.4" fill="#fdbb55" font-family="'Liberation Sans','Noto Sans CJK SC',sans-serif">MA10</text>
<text transform="translate(629.80 51.20) scale(0.970 1)" font-size="13.4" fill="#b57edc" font-family="'Liberation Sans','Noto Sans CJK SC',sans-serif">MA20</text>
<text transform="translate(684.90 51.20) scale(0.970 1)" font-size="13.4" fill="#ff8fc7" font-family="'Liberation Sans','Noto Sans CJK SC',sans-serif">MA60</text>
</g>
</svg>
</body></html>
